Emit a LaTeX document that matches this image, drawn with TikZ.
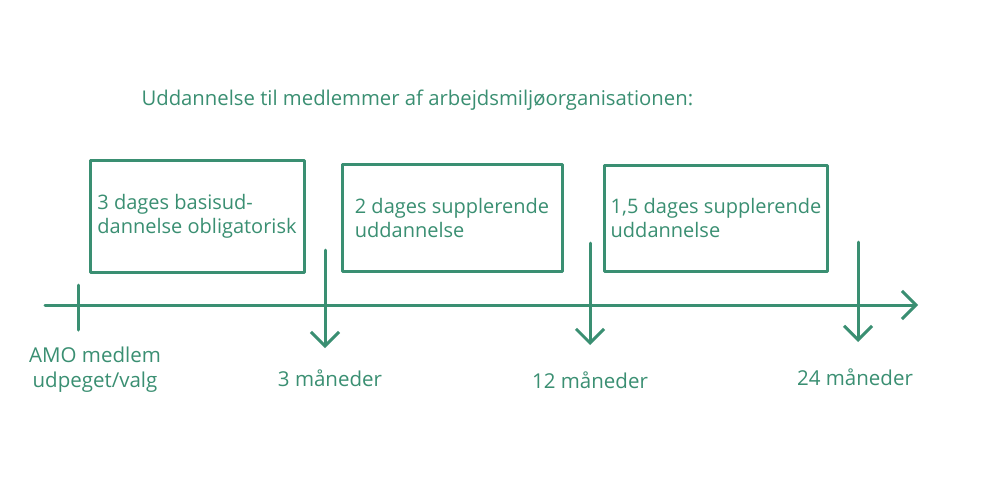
\documentclass[tikz,border=0pt]{standalone}
\usepackage{fontspec}
\setmainfont{Open Sans}
\usetikzlibrary{arrows.meta,positioning}
\definecolor{amogreen}{RGB}{58,143,114}
\tikzset{
  sketch/.style={draw=amogreen, line width=3pt, line cap=round, line join=round},
  stagebox/.style={sketch, align=left, text=amogreen, inner sep=2pt, font=\fontsize{20}{24}\selectfont},
  caption/.style={text=amogreen, align=center, font=\fontsize{20.5}{25}\selectfont},
  vtip/.style={-{Straight Barb[length=14pt,width=28pt,line width=3pt]}},
}
\begin{document}
\begin{tikzpicture}[x=1pt,y=-1pt]
        \useasboundingbox[fill=white] (0,0) rectangle (1000,482);
        \node[anchor=west, text=amogreen, font=\fontsize{20.3}{24}\selectfont] (title) at (138,100) {Uddannelse til medlemmer af arbejdsmiljøorganisationen:};
        \node[stagebox, minimum width=214pt, minimum height=112pt] (basis) at (197,216) {3 dages basisud-\\dannelse obligatorisk};
        \node[stagebox, minimum width=220pt, minimum height=107pt] (supp2) at (452,218) {2 dages supplerende\\uddannelse};
        \node[stagebox, minimum width=223pt, minimum height=106pt] (supp15) at (716,218) {1,5 dages supplerende\\uddannelse};
        % time axis
        \coordinate (axstart) at (45,305);
        \coordinate (axend) at (918,305);
        \draw[sketch, vtip] (axstart) -- (axend);
        \coordinate (t0top) at (78,285);
        \coordinate (t0bot) at (78,330);
        \draw[sketch] (t0top) -- (t0bot);
        % milestones
        \coordinate (m3top) at (325,250);
        \coordinate (m3tip) at (325,348);
        \coordinate (m12top) at (590,243);
        \coordinate (m12tip) at (590,345);
        \coordinate (m24top) at (858,242);
        \coordinate (m24tip) at (858,342);
        \draw[sketch, vtip] (m3top) -- (m3tip);
        \draw[sketch, vtip] (m12top) -- (m12tip);
        \draw[sketch, vtip] (m24top) -- (m24tip);
        \node[caption] (amo) at (95,370) {AMO medlem\\udpeget/valg};
        \node[caption] (m3) at (330,378) {3 måneder};
        \node[caption] (m12) at (590,380) {12 måneder};
        \node[caption] (m24) at (855,377) {24 måneder};
    \end{tikzpicture}
\end{document}
